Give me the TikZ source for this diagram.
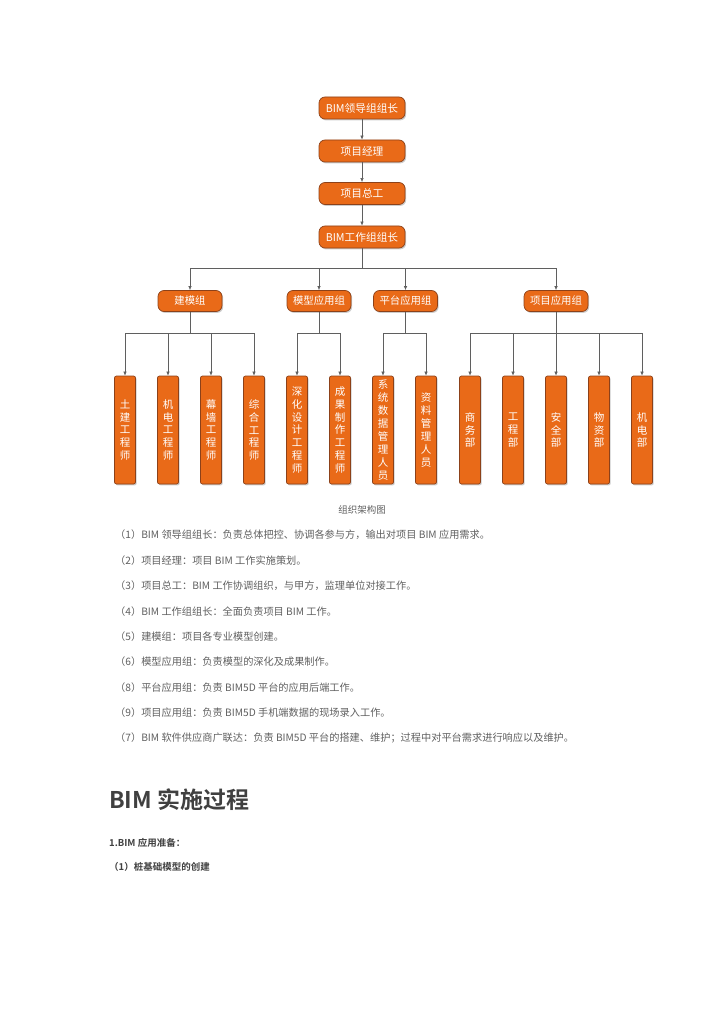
\documentclass[tikz,border=0pt]{standalone}
\usepackage{fontspec}
\setmainfont{Noto Sans CJK SC}[BoldFont={Noto Sans CJK SC Bold}]
\usepackage{xcolor}
\usepackage{tikz}
\usetikzlibrary{arrows.meta,positioning,calc,shadows}
\definecolor{orgfill}{RGB}{233,106,24}
\definecolor{orgdraw}{RGB}{140,65,25}
\definecolor{linegray}{RGB}{95,95,95}
\definecolor{txtgray}{RGB}{95,95,95}
\tikzset{
	orgbox/.style={draw=orgdraw, fill=orgfill, rounded corners=6pt, align=center,
		text=white, line width=0.7pt,
		drop shadow={opacity=0.4, shadow xshift=1.2pt, shadow yshift=-1.4pt}},
	arrow/.style={-{Latex[length=4pt,width=3.5pt]}, line width=0.6pt, draw=linegray},
	link/.style={line width=0.6pt, draw=linegray},
	bodytext/.style={anchor=west, font=\fontsize{10.2}{12}\selectfont, text=txtgray, inner sep=0pt}
}

\begin{document}
\begin{tikzpicture}[
		x=1pt, y=-1pt,
		topbox/.style={orgbox, minimum width=86pt, minimum height=22pt,
			font=\fontsize{10.7}{12}\selectfont},
		groupbox/.style={orgbox, minimum width=64pt, minimum height=21pt,
			font=\fontsize{10.4}{12}\selectfont},
		leafbox/.style={orgbox, rounded corners=2pt, minimum width=21pt, minimum height=108pt,
			inner sep=0pt, text width=12pt, font=\fontsize{10.5}{12.9}\selectfont},
	]
	\useasboundingbox (0,0) rectangle (724,1024);
	
	%% ── Leadership chain ────────────────────────────────────────────
	\node[topbox] (bimlead) at (362,108) {BIM领导组组长};
	\node[topbox] (pm) at (362,151) {项目经理};
	\node[topbox] (chiefeng) at (362,193.5) {项目总工};
	\node[topbox] (worklead) at (362,237) {BIM工作组组长};
	
	\draw[arrow] (bimlead) -- (pm);
	\draw[arrow] (pm) -- (chiefeng);
	\draw[arrow] (chiefeng) -- (worklead);
	
	%% ── Groups ──────────────────────────────────────────────────────
	\node[groupbox] (model) at (190,301) {建模组};
	\node[groupbox] (modelapp) at (319,301) {模型应用组};
	\node[groupbox] (platform) at (405.5,301) {平台应用组};
	\node[groupbox] (projapp) at (556,301) {项目应用组};
	
	\coordinate (bustop) at (362,268.5);
	\draw[link] (worklead) -- (bustop);
	\foreach \g in {model,modelapp,platform,projapp}
	\draw[arrow] (bustop) -| (\g);
	
	%% ── Leaf posts ──────────────────────────────────────────────────
	\node[leafbox] (civil) at (125,430) {土\\建\\工\\程\\师};
	\node[leafbox] (mep) at (168,430) {机\\电\\工\\程\\师};
	\node[leafbox] (curtain) at (211,430) {幕\\墙\\工\\程\\师};
	\node[leafbox] (general) at (254,430) {综\\合\\工\\程\\师};
	
	\node[leafbox] (detail) at (297,430) {深\\化\\设\\计\\工\\程\\师};
	\node[leafbox] (output) at (340,430) {成\\果\\制\\作\\工\\程\\师};
	
	\node[leafbox] (sysdata) at (383,430) {系\\统\\数\\据\\管\\理\\人\\员};
	\node[leafbox] (docs) at (426,430) {资\\料\\管\\理\\人\\员};
	
	\node[leafbox] (biz) at (470,430) {商\\务\\部};
	\node[leafbox] (eng) at (513,430) {工\\程\\部};
	\node[leafbox] (safety) at (556,430) {安\\全\\部};
	\node[leafbox] (material) at (599,430) {物\\资\\部};
	\node[leafbox] (elec) at (642,430) {机\\电\\部};
	
	%% ── Group to post connectors ────────────────────────────────────
	\coordinate (busA) at (190,333);
	\coordinate (busB) at (319,333);
	\coordinate (busC) at (405.5,333);
	\coordinate (busD) at (556,333);
	\draw[link] (model) -- (busA);
	\draw[link] (modelapp) -- (busB);
	\draw[link] (platform) -- (busC);
	\draw[link] (projapp) -- (busD);
	\foreach \l in {civil,mep,curtain,general}
	\draw[arrow] (busA) -| (\l);
	\foreach \l in {detail,output}
	\draw[arrow] (busB) -| (\l);
	\foreach \l in {sysdata,docs}
	\draw[arrow] (busC) -| (\l);
	\foreach \l in {biz,eng,safety,material,elec}
	\draw[arrow] (busD) -| (\l);
	
	%% ── Caption and description ─────────────────────────────────────
	\node[font=\fontsize{9.5}{11}\selectfont, text=txtgray] (caption) at (362,510) {组织架构图};
	
	\node[bodytext] (d1) at (115,535) {（1）BIM 领导组组长：负责总体把控、协调各参与方，输出对项目 BIM 应用需求。};
	\node[bodytext] (d2) at (115,560.4) {（2）项目经理：项目 BIM 工作实施策划。};
	\node[bodytext] (d3) at (115,585.8) {（3）项目总工：BIM 工作协调组织，与甲方，监理单位对接工作。};
	\node[bodytext] (d4) at (115,611.2) {（4）BIM 工作组组长：全面负责项目 BIM 工作。};
	\node[bodytext] (d5) at (115,636.6) {（5）建模组：项目各专业模型创建。};
	\node[bodytext] (d6) at (115,662) {（6）模型应用组：负责模型的深化及成果制作。};
	\node[bodytext] (d8) at (115,687.4) {（8）平台应用组：负责 BIM5D 平台的应用后端工作。};
	\node[bodytext] (d9) at (115,712.8) {（9）项目应用组：负责 BIM5D 手机端数据的现场录入工作。};
	\node[bodytext] (d7) at (115,738.2) {（7）BIM 软件供应商广联达：负责 BIM5D 平台的搭建、维护；过程中对平台需求进行响应以及维护。};
	
	%% ── Section heading ─────────────────────────────────────────────
	\node[anchor=west, inner sep=0pt, font=\fontsize{23}{27}\bfseries, text=black!75] (heading) at (109,800) {BIM 实施过程};
	\node[anchor=west, inner sep=0pt, font=\fontsize{9.5}{11}\bfseries, text=black!75] (sub1) at (109,843) {1.BIM 应用准备：};
	\node[anchor=west, inner sep=0pt, font=\fontsize{9.5}{11}\bfseries, text=black!75] (sub2) at (109,867) {（1）桩基础模型的创建};
\end{tikzpicture}
\end{document}
